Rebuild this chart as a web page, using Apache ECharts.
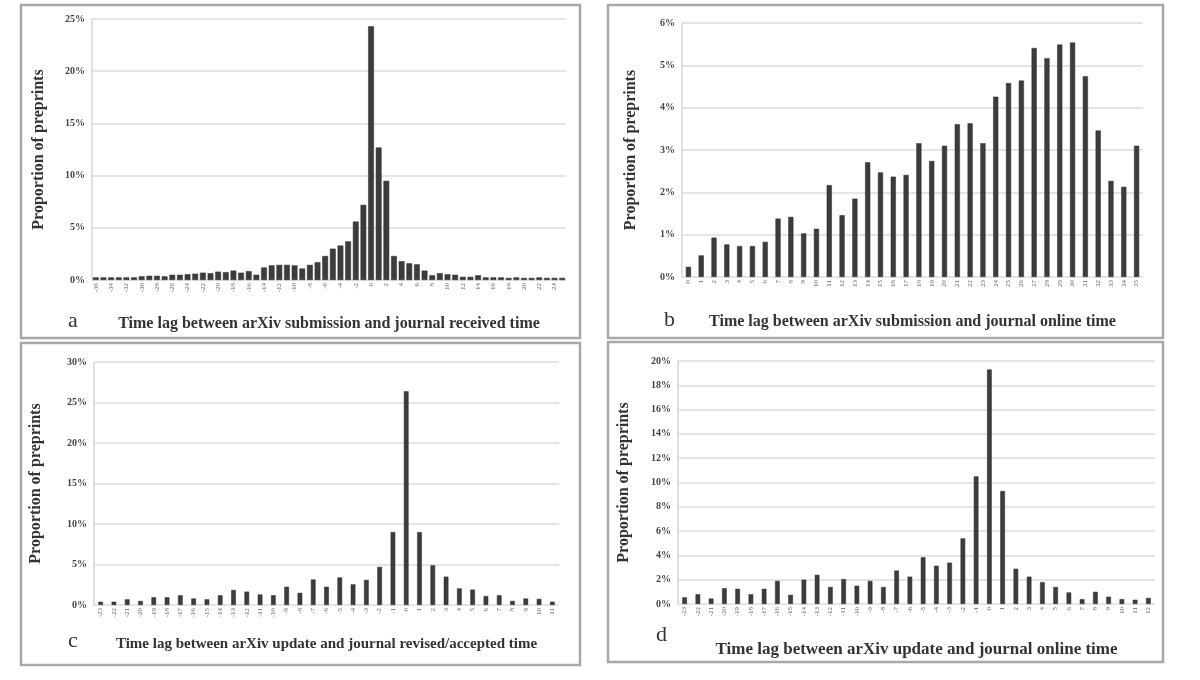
<!DOCTYPE html>
<html>
<head>
<meta charset="utf-8">
<script src="https://cdn.jsdelivr.net/npm/echarts@6/dist/echarts.min.js"></script>
<style>
  html, body { margin: 0; padding: 0; background: #fff; }
  #chart { width: 1200px; height: 680px; }
</style>
</head>
<body>
<div id="chart"></div>
<script>
// tick labels (months of lag) - unreadable in the source, approximated
const catsA = ['-36','-35','-34','-33','-32','-31','-30','-29','-28','-27','-26','-25','-24','-23','-22','-21','-20','-19','-18','-17','-16','-15','-14','-13','-12','-11','-10','-9','-8','-7','-6','-5','-4','-3','-2','-1','0','1','2','3','4','5','6','7','8','9','10','11','12','13','14','15','16','17','18','19','20','21','22','23','24','25'];
const catsB = ['0','1','2','3','4','5','6','7','8','9','10','11','12','13','14','15','16','17','18','19','20','21','22','23','24','25','26','27','28','29','30','31','32','33','34','35'];
const catsC = ['-23','-22','-21','-20','-19','-18','-17','-16','-15','-14','-13','-12','-11','-10','-9','-8','-7','-6','-5','-4','-3','-2','-1','0','1','2','3','4','5','6','7','8','9','10','11'];
const catsD = ['-23','-22','-21','-20','-19','-18','-17','-16','-15','-14','-13','-12','-11','-10','-9','-8','-7','-6','-5','-4','-3','-2','-1','0','1','2','3','4','5','6','7','8','9','10','11','12'];

// proportion of preprints (%)
const valsA = [0.25,0.25,0.25,0.25,0.25,0.25, 0.35,0.4,0.4,0.35, 0.5,0.5,0.55,0.6, 0.7,0.65,0.8,0.75, 0.9,0.7,0.85,0.5,
  1.2,1.4,1.45,1.45,1.4,1.1,1.45, 1.7,2.3,3.0,3.3,3.7,5.6,7.2, 24.3,12.7,9.5, 2.3,1.8,1.6,1.5,0.9,
  0.45,0.65,0.55,0.5,0.3,0.3,0.45, 0.25,0.25,0.25,0.2,0.25,0.2,0.2,0.25,0.2,0.2,0.2];
const valsB = [0.24,0.51,0.93,0.77,0.73,0.73,0.83,1.38,1.42,1.03,1.14,2.17,1.46,1.85,2.71,2.47,2.37,2.41,
  3.16,2.74,3.10,3.61,3.63,3.16,4.26,4.58,4.64,5.41,5.17,5.49,5.54,4.74,3.46,2.27,2.13,3.10];
const valsC = [0.4,0.4,0.7,0.5,0.95,0.95,1.2,0.8,0.7,1.2,1.85,1.65,1.3,1.2,2.25,1.5,3.15,2.25,3.4,2.55,
  3.1,4.7,9.0,26.4,9.0,4.9,3.5,2.05,1.9,1.1,1.2,0.5,0.8,0.75,0.4];
const valsD = [0.55,0.8,0.45,1.3,1.25,0.8,1.25,1.9,0.75,2.0,2.4,1.4,2.05,1.5,1.9,1.4,2.75,2.25,3.85,3.15,
  3.4,5.4,10.5,19.3,9.3,2.9,2.25,1.8,1.4,0.95,0.4,1.0,0.6,0.4,0.35,0.5];

const titleA = 'Time lag between arXiv submission and journal received time';
const titleB = 'Time lag between arXiv submission and journal online time';
const titleC = 'Time lag between arXiv update and journal revised/accepted time';
const titleD = 'Time lag between arXiv update and journal online time';
const yName = 'Proportion of preprints';

const SERIF = '"Liberation Serif", "DejaVu Serif", serif';

function xAxisOf(idx, cats, title, gap, fs, labelInterval) {
  return {
    type: 'category', gridIndex: idx, data: cats,
    name: title, nameLocation: 'middle', nameGap: gap,
    nameTextStyle: { fontFamily: SERIF, fontWeight: 'bold', fontSize: fs, color: '#333' },
    axisLine: { show: false }, axisTick: { show: false },
    axisLabel: { rotate: 90, fontSize: 7, color: '#666', fontFamily: SERIF, interval: labelInterval, margin: 3 }
  };
}

function yAxisOf(idx, max, interval, gap) {
  return {
    type: 'value', gridIndex: idx, min: 0, max: max, interval: interval,
    name: yName, nameLocation: 'middle', nameRotate: 90, nameGap: gap,
    nameTextStyle: { fontFamily: SERIF, fontWeight: 'bold', fontSize: 16, color: '#333' },
    axisLine: { show: true, lineStyle: { color: '#d6d6d6', width: 1.5 } },
    axisTick: { show: false },
    axisLabel: { formatter: '{value}%', fontSize: 10, fontWeight: 'bold', color: '#444', fontFamily: SERIF, margin: 7 },
    splitLine: { lineStyle: { color: '#dcdcdc', width: 1.5 } }
  };
}

function barsOf(idx, vals, gap) {
  return {
    type: 'bar', xAxisIndex: idx, yAxisIndex: idx, data: vals,
    barCategoryGap: gap,
    itemStyle: { color: '#3c3c3c', borderColor: '#2a2a2a', borderWidth: 0.5 }
  };
}

function frame(x, y, w, h) {
  return { type: 'rect', shape: { x: x, y: y, width: w, height: h },
    style: { fill: null, stroke: '#a8a8a8', lineWidth: 2.5 }, silent: true };
}
function letter(t, x, y) {
  return { type: 'text', x: x, y: y, style: { text: t, font: '22px ' + SERIF, fill: '#333' }, silent: true };
}

const chart = echarts.init(document.getElementById('chart'));
chart.setOption({
  backgroundColor: '#fff',
  animation: false,
  grid: [
    { left: 92, top: 19, width: 474, height: 261 },
    { left: 682, top: 23, width: 461, height: 254 },
    { left: 94, top: 362, width: 465, height: 243 },
    { left: 678, top: 361, width: 477, height: 243 }
  ],
  xAxis: [
    xAxisOf(0, catsA, titleA, 36, 16, 1),
    xAxisOf(1, catsB, titleB, 37, 16, 0),
    xAxisOf(2, catsC, titleC, 32, 15, 0),
    xAxisOf(3, catsD, titleD, 37, 17, 0)
  ],
  yAxis: [
    yAxisOf(0, 25, 5, 45),
    yAxisOf(1, 6, 1, 43),
    yAxisOf(2, 30, 5, 50),
    yAxisOf(3, 20, 2, 46)
  ],
  series: [
    barsOf(0, valsA, '25%'),
    barsOf(1, valsB, '60%'),
    barsOf(2, valsC, '65%'),
    barsOf(3, valsD, '65%')
  ],
  graphic: [
    frame(21, 5, 559, 333),
    frame(608, 5, 555, 333),
    frame(21, 343, 559, 322),
    frame(608, 342, 555, 320),
    letter('a', 68, 310),
    letter('b', 664, 309),
    letter('c', 68, 630),
    letter('d', 656, 624)
  ]
});
</script>
</body>
</html>
